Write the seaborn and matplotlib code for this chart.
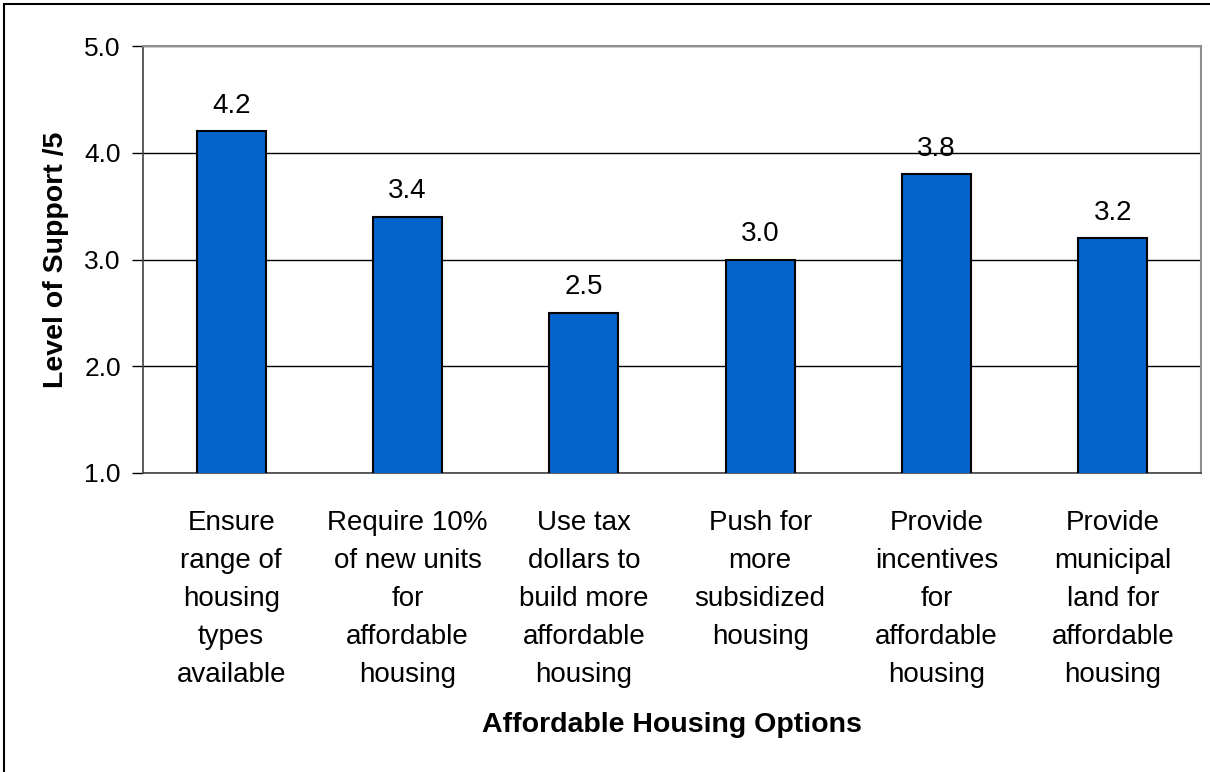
import matplotlib
matplotlib.use("Agg")
import matplotlib.pyplot as plt
import seaborn as sns
import pandas as pd
from matplotlib.lines import Line2D

options = [
    "Ensure\nrange of\nhousing\ntypes\navailable",
    "Require 10%\nof new units\nfor\naffordable\nhousing",
    "Use tax\ndollars to\nbuild more\naffordable\nhousing",
    "Push for\nmore\nsubsidized\nhousing",
    "Provide\nincentives\nfor\naffordable\nhousing",
    "Provide\nmunicipal\nland for\naffordable\nhousing",
]
support = [4.2, 3.4, 2.5, 3.0, 3.8, 3.2]
y_ticks = [1.0, 2.0, 3.0, 4.0, 5.0]

df = pd.DataFrame({"option": options, "support": support})

sns.set_style("white")
plt.rcParams["font.family"] = ["Liberation Sans", "DejaVu Sans"]
plt.rcParams["text.color"] = "black"
plt.rcParams["xtick.color"] = "black"
plt.rcParams["ytick.color"] = "black"
plt.rcParams["axes.labelcolor"] = "black"

fig = plt.figure(figsize=(12.1, 7.72), dpi=100)
# plot area: x 143..1201, y 46..473 px
ax = fig.add_axes([143 / 1210, 1 - 473 / 772, (1201 - 143) / 1210, (473 - 46) / 772])

sns.barplot(data=df, x="option", y="support", color="#0563CC", width=0.39,
            edgecolor="black", linewidth=1.5, saturation=1, ax=ax, zorder=3)

ax.set_ylim(1.0, 5.0)
ax.set_xlim(-0.5, len(options) - 0.5)
ax.set_yticks(y_ticks)
ax.set_yticklabels([f"{v:.1f}" for v in y_ticks], fontsize=19)
ax.yaxis.grid(True, color="black", linewidth=1)
ax.set_axisbelow(True)

# data labels
for i, v in enumerate(support):
    ax.annotate(f"{v:.1f}", (i, v), xytext=(0, 9), textcoords="offset points",
                ha="center", va="bottom", fontsize=20)

# category labels and separator ticks
ax.set_xticks(range(len(options)))
ax.set_xticklabels(options, fontsize=20, linespacing=1.6, va="top")
ax.tick_params(axis="x", length=0, pad=27)
ax.set_xticks([i - 0.5 for i in range(len(options) + 1)], minor=True)
ax.tick_params(axis="x", which="minor", length=8, width=1.2, color="#808080", direction="out")
ax.tick_params(axis="y", length=8, width=1, color="black", direction="out", left=True, pad=8)

for side in ["top", "right"]:
    ax.spines[side].set_color("#909090")
    ax.spines[side].set_linewidth(1.5)
ax.spines["left"].set_color("#404040")
ax.spines["bottom"].set_color("#404040")
ax.spines["left"].set_linewidth(1.2)
ax.spines["bottom"].set_linewidth(1.2)

ax.set_xlabel("Affordable Housing Options", fontsize=20.5, fontweight="bold", labelpad=17)
ax.set_ylabel("Level of Support /5", fontsize=20.5, fontweight="bold", labelpad=11)

# outer chart border (top and left edges visible in the reference)
fig.add_artist(Line2D([0.0035, 1.0], [0.9945, 0.9945], transform=fig.transFigure,
                      color="black", linewidth=1.5))
fig.add_artist(Line2D([0.0035, 0.0035], [0.0, 0.9945], transform=fig.transFigure,
                      color="black", linewidth=1.5))

fig.savefig("out.png", dpi=100)
